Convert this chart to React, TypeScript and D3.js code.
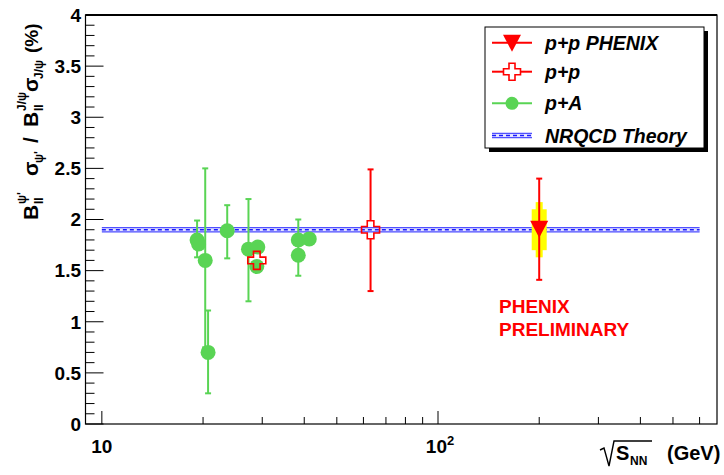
import React from "react";
import * as d3 from "d3";

// ---- data ----
const pAx = [19.2, 19.4, 20.3, 20.7, 23.6, 27.3, 29.1, 28.9, 38.4, 41.4, 38.4];
const pAy = [1.8, 1.76, 1.6, 0.7, 1.89, 1.71, 1.73, 1.54, 1.8, 1.81, 1.65];
const pAlo = [1.63, 1.76, 0.75, 0.3, 1.62, 1.2, 1.73, 1.54, 1.45, 1.81, 1.65];
const pAhi = [1.99, 1.76, 2.5, 1.11, 2.14, 2.2, 1.73, 1.54, 2.0, 1.81, 1.65];

const ppx = [28.9, 63];
const ppy = [1.6, 1.9];
const pplo = [1.6, 1.3];
const pphi = [1.6, 2.49];

const phx = [200];
const phy = [1.91];
const phlo = [1.41];
const phhi = [2.4];
const phSysWideLo = [1.7];
const phSysWideHi = [2.1];
const phSysNarrowLo = [1.63];
const phSysNarrowHi = [2.17];

const thX = [10, 600];
const thY = 1.9;
const thHalf = 0.025;

const yTicksMajor = [0, 0.5, 1, 1.5, 2, 2.5, 3, 3.5, 4];
const yTickLabels = ["0", "0.5", "1", "1.5", "2", "2.5", "3", "3.5", "4"];
const xMinor = [20, 30, 40, 50, 60, 70, 80, 90, 200, 300, 400, 500, 600];
const xMajor = [10, 100];

const legendLabels = ["p+p PHENIX", "p+p", "p+A", "NRQCD Theory"];

const FONT = "'Liberation Sans', Arial, Helvetica, sans-serif";
const GREEN = "#59d454";
const RED = "#ff0000";

const W = 724;
const H = 475;
const L = 85.5, R = 717, T = 15, B = 424;

const x = d3.scaleLog().domain([8.94, 676]).range([L, R]);
const y = d3.scaleLinear().domain([0, 4]).range([B, T]);

const crossPath = (a: number, b: number) =>
  `M${-b},${-a}L${b},${-a}L${b},${-b}L${a},${-b}L${a},${b}L${b},${b}L${b},${a}L${-b},${a}L${-b},${b}L${-a},${b}L${-a},${-b}L${-b},${-b}Z`;
const triPath = "M-9,-8L9,-8L0,9Z";

function ErrBar({ cx, v, lo, hi, gap, color }: any) {
  const yv = y(v), ylo = y(lo), yhi = y(hi);
  const segs: any[] = [];
  if (yv - gap > yhi) segs.push([yhi, yv - gap]);
  if (ylo > yv + gap) segs.push([yv + gap, ylo]);
  return (
    <g stroke={color} strokeWidth={2}>
      {segs.map((s, i) => (
        <line key={i} x1={cx} x2={cx} y1={s[0]} y2={s[1]} />
      ))}
      {hi > v && <line x1={cx - 3} x2={cx + 3} y1={yhi} y2={yhi} />}
      {lo < v && <line x1={cx - 3} x2={cx + 3} y1={ylo} y2={ylo} />}
    </g>
  );
}

function Band({ x1, x2, yc, h }: any) {
  return (
    <g>
      <rect x={x1} y={yc - h / 2} width={x2 - x1} height={h} fill="#e4e4ff" />
      <line x1={x1} x2={x2} y1={yc - h / 2 + 0.5} y2={yc - h / 2 + 0.5} stroke="#5050ff" strokeWidth={1.2} />
      <line x1={x1} x2={x2} y1={yc + h / 2 - 0.5} y2={yc + h / 2 - 0.5} stroke="#5050ff" strokeWidth={1.2} />
      <line x1={x1} x2={x2} y1={yc} y2={yc} stroke="#1a1aff" strokeWidth={1.5} strokeDasharray="4 3" />
    </g>
  );
}

export default function App() {
  const yMinor = d3.range(0, 4.0001, 0.1).filter((v) => Math.abs(v * 2 - Math.round(v * 2)) > 1e-6);
  const bandH = y(thY - thHalf) - y(thY + thHalf);
  const legY = [42.7, 71.7, 103.3, 135.5];
  return (
    <svg width={W} height={H} style={{ display: "block", position: "absolute", left: 0, top: 0 }} fontFamily={FONT}>
      <rect x={0} y={0} width={W} height={H} fill="#fff" />

      {/* theory band */}
      <Band x1={x(thX[0])} x2={x(thX[1])} yc={y(thY)} h={bandH} />

      {/* p+A */}
      {pAx.map((vx, i) => (
        <ErrBar key={"e" + i} cx={x(vx)} v={pAy[i]} lo={pAlo[i]} hi={pAhi[i]} gap={0} color={GREEN} />
      ))}
      {pAx.map((vx, i) => (
        <circle key={"c" + i} cx={x(vx)} cy={y(pAy[i])} r={7.5} fill={GREEN} />
      ))}

      {/* p+p */}
      {ppx.map((vx, i) => (
        <ErrBar key={"pe" + i} cx={x(vx)} v={ppy[i]} lo={pplo[i]} hi={pphi[i]} gap={9} color={RED} />
      ))}
      {ppx.map((vx, i) => (
        <path key={"pc" + i} d={crossPath(9, 3.3)} transform={`translate(${x(vx)},${y(ppy[i])})`} fill="none" stroke={RED} strokeWidth={1.6} />
      ))}

      {/* PHENIX */}
      {phx.map((vx, i) => (
        <g key={"ph" + i}>
          <rect x={x(vx) - 7.5} width={15} y={y(phSysWideHi[i])} height={y(phSysWideLo[i]) - y(phSysWideHi[i])} fill="#ffff00" />
          <rect x={x(vx) - 3.5} width={7} y={y(phSysNarrowHi[i])} height={y(phSysNarrowLo[i]) - y(phSysNarrowHi[i])} fill="#ffff00" />
          <ErrBar cx={x(vx)} v={phy[i]} lo={phlo[i]} hi={phhi[i]} gap={0} color={RED} />
          <path d={triPath} transform={`translate(${x(vx)},${y(phy[i])})`} fill={RED} />
        </g>
      ))}

      {/* frame */}
      <rect x={L} y={T} width={R - L} height={B - T} fill="none" stroke="#000" strokeWidth={1.2} />
      <line x1={L} x2={R} y1={T} y2={T} stroke="#000" strokeWidth={2} />

      {/* y ticks */}
      {yTicksMajor.map((v, i) => (
        <g key={"yt" + i}>
          <line x1={L} x2={L + 18} y1={y(v)} y2={y(v)} stroke="#000" />
          <text x={81} y={y(v)} dy="0.36em" textAnchor="end" fontSize={19} fontWeight="bold">
            {yTickLabels[i]}
          </text>
        </g>
      ))}
      {yMinor.map((v, i) => (
        <line key={"ym" + i} x1={L} x2={L + 9} y1={y(v)} y2={y(v)} stroke="#000" />
      ))}

      {/* x ticks */}
      {xMajor.map((v, i) => (
        <line key={"xM" + i} x1={x(v)} x2={x(v)} y1={B} y2={B - 13} stroke="#000" />
      ))}
      {xMinor.map((v, i) => (
        <line key={"xm" + i} x1={x(v)} x2={x(v)} y1={B} y2={B - 7} stroke="#000" />
      ))}
      <text x={x(10)} y={453} textAnchor="middle" fontSize={19} fontWeight="bold">10</text>
      <text x={x(100) + 2} y={453} textAnchor="middle" fontSize={19} fontWeight="bold">
        10<tspan dy={-8} fontSize={13}>2</tspan>
      </text>

      {/* x axis title */}
      <path d="M600,450L604,448L609,466L614,441L652,441" fill="none" stroke="#000" strokeWidth={1.4} />
      <text x={616} y={460} fontSize={20} fontWeight="bold">S</text>
      <text x={630} y={465} fontSize={12} fontWeight="bold">NN</text>
      <text x={667} y={460} fontSize={20} fontWeight="bold">(GeV)</text>

      {/* y axis title */}
      <g transform="translate(38,220) rotate(-90)" fontWeight="bold">
        <text x={0} y={0} fontSize={21}>B</text>
        <text x={16} y={5} fontSize={12}>ll</text>
        <text x={16} y={-12} fontSize={12}>ψ'</text>
        <text x={44} y={0} fontSize={21}>σ</text>
        <text x={57} y={5} fontSize={12}>ψ'</text>
        <text x={77} y={0} fontSize={21}>/</text>
        <text x={93} y={0} fontSize={21}>B</text>
        <text x={109} y={5} fontSize={12}>ll</text>
        <text x={109} y={-12} fontSize={12}>J/ψ</text>
        <text x={128} y={0} fontSize={21}>σ</text>
        <text x={141} y={5} fontSize={12}>J/ψ</text>
        <text x={167} y={0} fontSize={19}>(%)</text>
      </g>

      {/* PHENIX PRELIMINARY */}
      <text x={499} y={313} fontSize={19} fontWeight="bold" fill={RED}>PHENIX</text>
      <text x={499} y={336} fontSize={19} fontWeight="bold" fill={RED}>PRELIMINARY</text>

      {/* legend */}
      <rect x={489} y={31} width={219} height={121} fill="#000" />
      <rect x={485} y={27} width={219} height={121} fill="#fff" stroke="#000" strokeWidth={1} />
      <line x1={492} x2={532} y1={legY[0]} y2={legY[0]} stroke={RED} strokeWidth={2} />
      <path d={triPath} transform={`translate(512,${legY[0]})`} fill={RED} />
      <line x1={492} x2={503} y1={legY[1]} y2={legY[1]} stroke={RED} strokeWidth={2} />
      <line x1={521} x2={532} y1={legY[1]} y2={legY[1]} stroke={RED} strokeWidth={2} />
      <path d={crossPath(8.5, 3)} transform={`translate(512,${legY[1]})`} fill="none" stroke={RED} strokeWidth={1.6} />
      <line x1={492} x2={532} y1={legY[2]} y2={legY[2]} stroke={GREEN} strokeWidth={2} />
      <circle cx={512} cy={legY[2]} r={6.5} fill={GREEN} />
      <Band x1={492} x2={532} yc={legY[3]} h={bandH} />
      {legendLabels.map((t, i) => (
        <text key={"lg" + i} x={545} y={legY[i]} dy="0.36em" fontSize={19.5} fontWeight="bold" fontStyle="italic">
          {t}
        </text>
      ))}
    </svg>
  );
}
